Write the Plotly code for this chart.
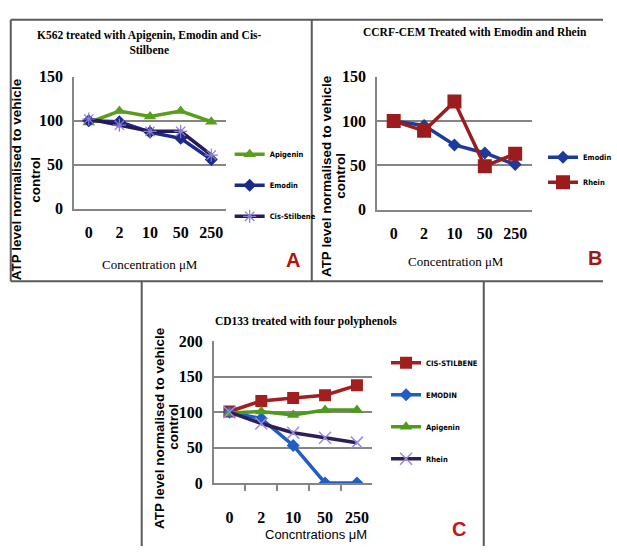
import plotly.graph_objects as go

W, H = 617, 555

# ---------------- data ----------------
conc = ["0", "2", "10", "50", "250"]

a_apigenin = [98, 111, 105, 111, 99]
a_emodin = [100, 99, 87, 80, 56]
a_cis = [102, 95, 88, 88, 61]

b_emodin = [100, 95, 73, 64, 51]
b_rhein = [100, 89, 122, 49, 63]

c_cis = [101, 116, 120, 124, 138]
c_emodin = [100, 91, 53, 0, 0]
c_apigenin = [99, 101, 96, 103, 103]
c_rhein = [100, 84, 71, 64, 57]

title_a = "K562 treated with Apigenin, Emodin and Cis-<br>Stilbene"
title_b = "CCRF-CEM Treated with Emodin and Rhein"
title_c = "CD133 treated with four polyphenols"
ytitle1 = "ATP level normalised to vehicle"
ytitle2 = "control"
xtitle_ab = "Concentration \u03bcM"
xtitle_c = "Concntrations \u03bcM"


def px(x):
    return x / W


def py(y):
    return 1 - y / H


SERIF = "Liberation Serif, Times New Roman, serif"
SANS = "Liberation Sans, Arial, sans-serif"
COND = "DejaVu Sans Condensed, Liberation Sans, sans-serif"

GREEN = "#5a9e1e"
fig = go.Figure()


def add(x, y, name, color, symbol, size, xa, ya, legend, mcolor=None, mline=0, lw=3.5, group=None):
    fig.add_trace(go.Scatter(
        x=x, y=y, name=name, mode="lines+markers",
        line=dict(color=color, width=lw),
        marker=dict(symbol=symbol, size=size, color=mcolor or color,
                    line=dict(color=mcolor or color, width=mline)),
        xaxis=xa, yaxis=ya, legend=legend, legendgroup=group or name,
    ))


# Panel A
add(conc, a_apigenin, "Apigenin", GREEN, "triangle-up", 11, "x", "y", "legend")
add(conc, a_emodin, "Emodin", "#1c2a8c", "diamond", 10, "x", "y", "legend")
add(conc, a_cis, "Cis-Stilbene", "#261a5c", "asterisk-open", 11, "x", "y", "legend",
    mcolor="#8a7bd4", mline=1.2)

# Panel B
add(conc, b_emodin, "Emodin", "#1e3a9a", "diamond", 10, "x2", "y2", "legend2", group="bE")
add(conc, b_rhein, "Rhein", "#9a1c1c", "square", 14, "x2", "y2", "legend2", group="bR")

# Panel C
add(conc, c_cis, "CIS-STILBENE", "#a21f1f", "square", 12, "x3", "y3", "legend3", group="cC")
add(conc, c_emodin, "EMODIN", "#1f5ec4", "diamond", 10, "x3", "y3", "legend3", group="cE")
add(conc, c_apigenin, "Apigenin", "#4f9a1e", "triangle-up", 11, "x3", "y3", "legend3", group="cA")
add(conc, c_rhein, "Rhein", "#2d1e5a", "x-thin-open", 12, "x3", "y3", "legend3",
    mcolor="#9c8ade", mline=1.5, group="cR")

GRID = "#858585"
tickfont = dict(family=SERIF, size=16, color="black", weight="bold")


def xaxis(domain, anchor, ticks="", standoff=8):
    return dict(domain=domain, anchor=anchor, type="category", categoryorder="array",
                categoryarray=conc, showgrid=False, showline=True, linecolor=GRID,
                linewidth=2, ticks=ticks, tickson="boundaries", ticklen=6,
                tickcolor=GRID, tickwidth=1.5, tickfont=tickfont, tickangle=0,
                ticklabelstandoff=standoff, zeroline=False, fixedrange=True)


def yaxis(domain, anchor, rng):
    return dict(domain=domain, anchor=anchor, range=rng, dtick=50, showgrid=True,
                gridcolor=GRID, gridwidth=2, showline=True, linecolor=GRID, linewidth=2,
                zeroline=False, ticks="", tickfont=tickfont, ticklabelstandoff=6,
                fixedrange=True)


leg_font = dict(family=COND, size=7.5, color="black", weight="bold")

fig.update_layout(
    width=W, height=H, margin=dict(l=0, r=0, t=0, b=0),
    paper_bgcolor="white", plot_bgcolor="white", showlegend=True,
    xaxis=xaxis([px(76), px(231)], "y"),
    yaxis=yaxis([py(207), py(71)], "x", [0, 150]),
    xaxis2=xaxis([px(386), px(544)], "y2"),
    yaxis2=yaxis([py(208), py(71)], "x2", [0, 150]),
    xaxis3=xaxis([px(219), px(381)], "y3", ticks="outside", standoff=19),
    yaxis3=yaxis([py(490), py(344)], "x3", [0, 200]),
    legend=dict(x=px(235), y=py(136), xanchor="left", yanchor="top", font=leg_font,
                tracegroupgap=12, bgcolor="rgba(0,0,0,0)", itemwidth=30),
    legend2=dict(x=px(556), y=py(139), xanchor="left", yanchor="top", font=leg_font,
                 tracegroupgap=6, bgcolor="rgba(0,0,0,0)", itemwidth=30),
    legend3=dict(x=px(395), y=py(351), xanchor="left", yanchor="top", font=leg_font,
                 tracegroupgap=13, bgcolor="rgba(0,0,0,0)", itemwidth=30),
)

# borders
BC = "#5a5a5a"
lines = [((11, 12), (617, 12)), ((11, 12), (11, 282)), ((11, 282), (617, 282)),
         ((319, 12), (319, 282)), ((145, 282), (145, 555)), ((495, 282), (495, 555))]
for (x0, y0), (x1, y1) in lines:
    fig.add_shape(type="line", xref="paper", yref="paper", x0=px(x0), y0=py(y0),
                  x1=px(x1), y1=py(y1), line=dict(color=BC, width=2))


def text(x, y, s, size, family=SERIF, angle=0, color="black", bold=True):
    fig.add_annotation(x=px(x), y=py(y), xref="paper", yref="paper", text=s,
                       showarrow=False, textangle=angle, xanchor="center", yanchor="middle",
                       font=dict(family=family, size=size, color=color,
                                 weight="bold" if bold else "normal"))


# titles
text(153, 36, title_a, 11.5)
text(486, 25, title_b, 11.5)
text(313, 323, title_c, 11.5)

# y titles
text(17, 177, ytitle1, 13.5, family=SANS, angle=-90)
text(36, 177, ytitle2, 13.5, family=SANS, angle=-90)
text(334, 173, ytitle1, 13.5, family=SANS, angle=-90)
text(349, 173, ytitle2, 13.5, family=SANS, angle=-90)
text(163, 433, ytitle1, 13.5, family=SANS, angle=-90)
text(178, 432, ytitle2, 13.5, family=SANS, angle=-90)

# x titles
text(153, 265, xtitle_ab, 13, bold=False)
text(467, 262, xtitle_ab, 13, bold=False)
text(323, 543, xtitle_c, 13, family=SANS, bold=False)

# panel letters
text(300, 260, "A", 20, family=SANS, color="#b31212")
text(609, 258, "B", 20, family=SANS, color="#a51515")
text(470, 537, "C", 20, family=SANS, color="#c81414")

fig.write_html("out.html")
